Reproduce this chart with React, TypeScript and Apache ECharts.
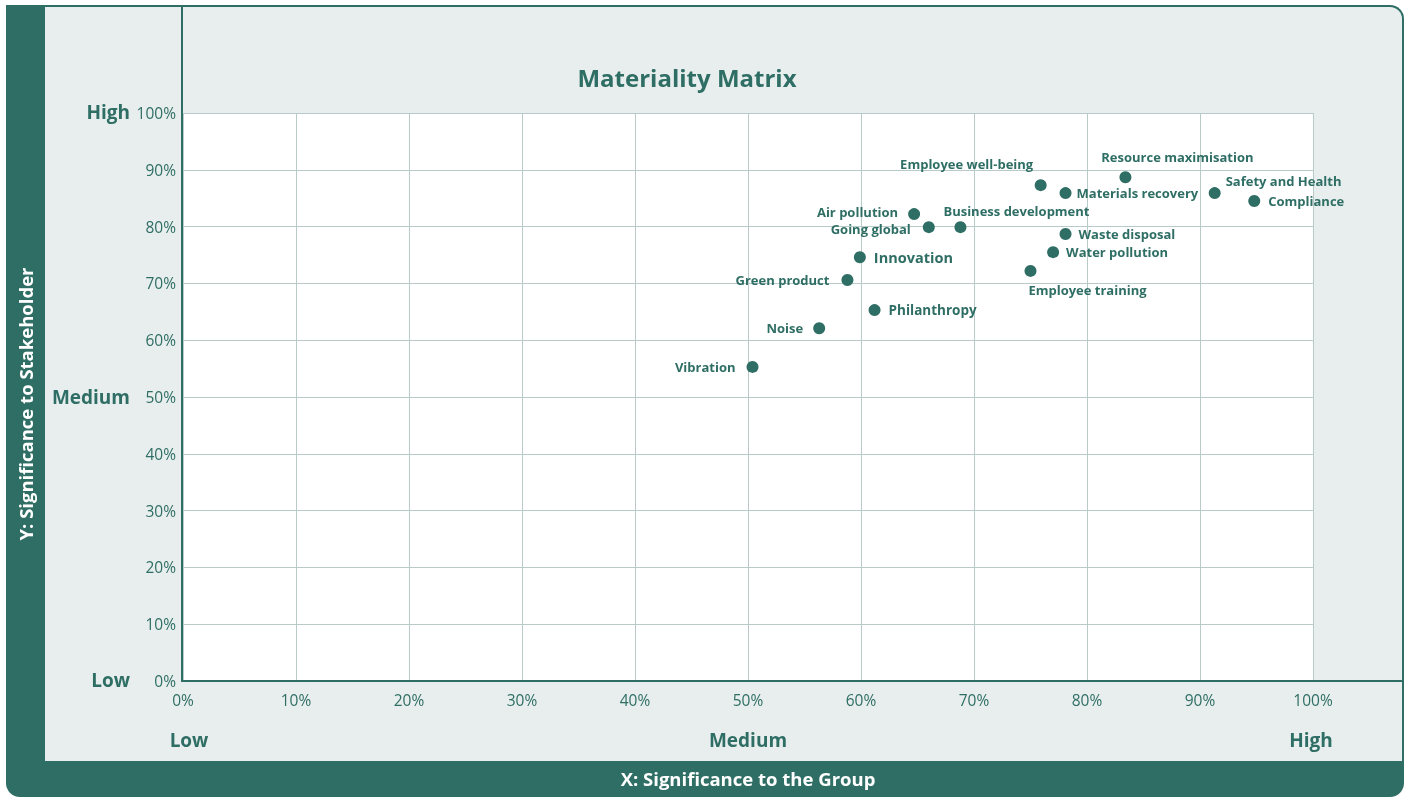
import React, { useEffect, useRef } from "react";
import * as echarts from "echarts";

const names = [
  "Employee well-being", "Resource maximisation", "Materials recovery", "Safety and Health",
  "Compliance", "Air pollution", "Going global", "Business development", "Waste disposal",
  "Water pollution", "Innovation", "Employee training", "Green product", "Philanthropy",
  "Noise", "Vibration",
];
const xValues = [75.9, 83.4, 78.1, 91.3, 94.8, 64.7, 66.0, 68.8, 78.1, 77.0, 59.9, 75.0, 58.8, 61.2, 56.3, 50.4];
const yValues = [87.3, 88.7, 85.9, 85.9, 84.5, 82.2, 79.9, 79.9, 78.7, 75.5, 74.6, 72.2, 70.6, 65.3, 62.1, 55.3];
const levelLabels = ["Low", "Medium", "High"];
const title = "Materiality Matrix";
const xName = "X: Significance to the Group";
const yName = "Y: Significance to Stakeholder";

const labelStyle: Record<string, any> = {
  "Employee well-being": { position: "top", offset: [-74, -4] },
  "Resource maximisation": { position: "top", offset: [52, -3] },
  "Materials recovery": { position: "right" },
  "Safety and Health": { position: "right", offset: [0, -12] },
  "Compliance": { position: "right", distance: 8 },
  "Air pollution": { position: "left", distance: 10, offset: [0, -2] },
  "Going global": { position: "left", distance: 12, offset: [0, 2] },
  "Business development": { position: "top", offset: [56, 1] },
  "Waste disposal": { position: "right", distance: 7 },
  "Water pollution": { position: "right", distance: 7 },
  "Innovation": { position: "right", distance: 8, fontSize: 14.5 },
  "Employee training": { position: "bottom", offset: [57, 2] },
  "Green product": { position: "left", distance: 12 },
  "Philanthropy": { position: "right", distance: 8, fontSize: 13.5 },
  "Noise": { position: "left", distance: 10 },
  "Vibration": { position: "left", distance: 11 },
};

const DARK = "#2e6e64";
const LIGHT = "#e8eeee";
const FONT = "'Open Sans', 'Noto Sans', sans-serif";

export default function App() {
  const ref = useRef<HTMLDivElement>(null);
  useEffect(() => {
    const chart = echarts.init(ref.current!, null, { renderer: "svg" });
    const gridLeft = 183, gridTop = 113, gridW = 1130, gridH = 568;
    const data = names.map((n, i) => {
      const ls = labelStyle[n] || {};
      return {
        name: n,
        value: [xValues[i], yValues[i]],
        label: {
          show: true,
          formatter: n,
          position: ls.position,
          offset: ls.offset,
          distance: ls.distance ?? 5,
          fontSize: ls.fontSize ?? 13,
          fontWeight: "bold",
          color: DARK,
          opacity: 1,
          fontFamily: FONT,
        },
      };
    });
    chart.setOption({
      animation: false,
      textStyle: { fontFamily: FONT },
      grid: {
        left: gridLeft, top: gridTop, width: gridW, height: gridH,
        show: true, backgroundColor: "#ffffff", borderWidth: 0,
      },
      xAxis: {
        type: "value", min: 0, max: 100, interval: 10,
        axisLine: { show: false }, axisTick: { show: false },
        axisLabel: { formatter: "{value}%", color: DARK, fontSize: 15.5, margin: 11, fontFamily: FONT },
        splitLine: { lineStyle: { color: "#b9cbc8", width: 1 } },
      },
      yAxis: {
        type: "value", min: 0, max: 100, interval: 10,
        axisLine: { show: false }, axisTick: { show: false },
        axisLabel: { formatter: "{value}%", color: DARK, fontSize: 15.5, margin: 7, fontFamily: FONT },
        splitLine: { lineStyle: { color: "#b9cbc8", width: 1 } },
      },
      graphic: [
        { type: "rect", z: -10, shape: { x: 6, y: 5, width: 1398, height: 792, r: [0, 14, 14, 14] }, style: { fill: DARK } },
        { type: "rect", z: -9, shape: { x: 45, y: 7, width: 1357, height: 754, r: [0, 12, 0, 0] }, style: { fill: LIGHT } },
        { type: "line", z: 10, shape: { x1: 182, y1: 7, x2: 182, y2: 682 }, style: { stroke: DARK, lineWidth: 2 } },
        { type: "line", z: 10, shape: { x1: 181, y1: 681, x2: 1402, y2: 681 }, style: { stroke: DARK, lineWidth: 2 } },
        { type: "text", x: 687, y: 77, style: { text: title, fill: DARK, font: `bold 24px ${FONT}`, textAlign: "center", textVerticalAlign: "middle" } },
        { type: "text", x: 130, y: 112, style: { text: levelLabels[2], fill: DARK, font: `bold 19px ${FONT}`, textAlign: "right", textVerticalAlign: "middle" } },
        { type: "text", x: 130, y: 397, style: { text: levelLabels[1], fill: DARK, font: `bold 19px ${FONT}`, textAlign: "right", textVerticalAlign: "middle" } },
        { type: "text", x: 130, y: 680, style: { text: levelLabels[0], fill: DARK, font: `bold 19px ${FONT}`, textAlign: "right", textVerticalAlign: "middle" } },
        { type: "text", x: 189, y: 740, style: { text: levelLabels[0], fill: DARK, font: `bold 19px ${FONT}`, textAlign: "center", textVerticalAlign: "middle" } },
        { type: "text", x: 748, y: 740, style: { text: levelLabels[1], fill: DARK, font: `bold 19px ${FONT}`, textAlign: "center", textVerticalAlign: "middle" } },
        { type: "text", x: 1311, y: 740, style: { text: levelLabels[2], fill: DARK, font: `bold 19px ${FONT}`, textAlign: "center", textVerticalAlign: "middle" } },
        { type: "text", x: 748, y: 778, style: { text: xName, fill: "#ffffff", font: `bold 18.5px ${FONT}`, textAlign: "center", textVerticalAlign: "middle" } },
        { type: "text", x: 25, y: 404, rotation: Math.PI / 2, style: { text: yName, fill: "#ffffff", font: `bold 18.5px ${FONT}`, textAlign: "center", textVerticalAlign: "middle" } },
      ],
      series: [
        {
          type: "scatter",
          symbolSize: 12,
          itemStyle: { color: DARK, opacity: 1 },
          data,
          z: 20,
        },
      ],
    });
    return () => chart.dispose();
  }, []);
  return <div ref={ref} style={{ position: "fixed", left: 0, top: 0, width: 1404, height: 797 }} />;
}
